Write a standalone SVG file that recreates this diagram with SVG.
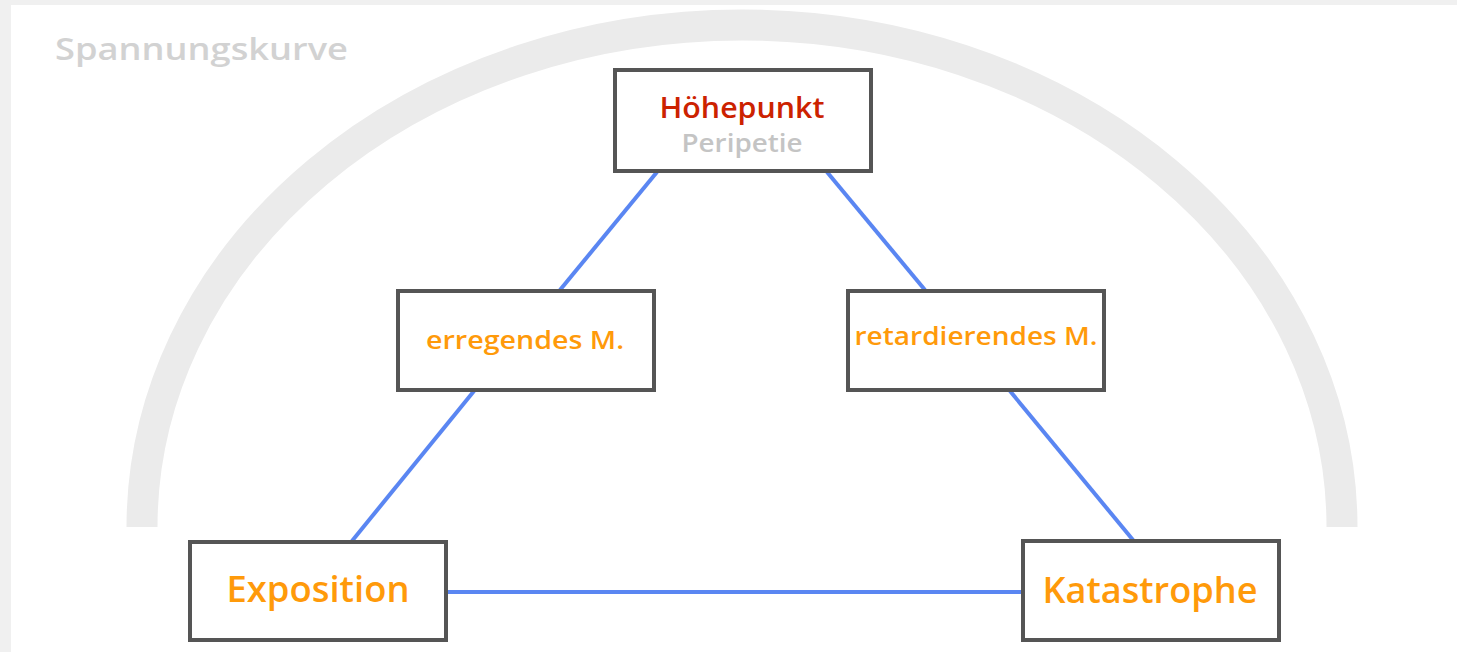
<svg xmlns="http://www.w3.org/2000/svg" width="1457" height="652" viewBox="0 0 1457 652">
<style>
.box{fill:#fff;stroke:#555;stroke-width:4}
.con{stroke:#5a86f2;stroke-width:4;fill:none}
.t{font-family:"Open Sans","Liberation Sans",sans-serif;font-weight:600;text-anchor:middle}
.o{fill:#ff9a0a}
</style>
<rect x="0" y="0" width="1457" height="652" fill="#f0f0f0"/>
<rect x="11" y="5" width="1446" height="647" fill="#fff"/>
<defs><clipPath id="c"><rect x="0" y="0" width="1457" height="527"/></clipPath></defs>
<ellipse cx="742" cy="527" rx="600" ry="502" fill="none" stroke="#ebebeb" stroke-width="31" clip-path="url(#c)"/>
<text x="55" y="60" class="t" style="text-anchor:start;fill:#d2d2d2;font-size:30px" textLength="293" lengthAdjust="spacingAndGlyphs">Spannungskurve</text>
<g id="connectors">
<line class="con" x1="657" y1="172" x2="560" y2="290"/>
<line class="con" x1="474" y1="391" x2="352" y2="541"/>
<line class="con" x1="827" y1="172" x2="925" y2="290"/>
<line class="con" x1="1010" y1="391" x2="1133" y2="540"/>
<line class="con" x1="446" y1="592" x2="1022" y2="592"/>
</g>
<g id="hoehepunkt">
<rect class="box" x="615" y="70" width="256" height="101"/>
<text x="742" y="118" class="t" style="fill:#cc2200;font-size:28px" textLength="165" lengthAdjust="spacingAndGlyphs">Höhepunkt</text>
<text x="742" y="152" class="t" style="fill:#c4c4c4;font-size:25px" textLength="121" lengthAdjust="spacingAndGlyphs">Peripetie</text>
</g>
<g id="erregendes">
<rect class="box" x="398" y="291" width="256" height="99"/>
<text x="525" y="349" class="t o" style="font-size:26px" textLength="198" lengthAdjust="spacingAndGlyphs">erregendes M.</text>
</g>
<g id="retardierendes">
<rect class="box" x="848" y="291" width="256" height="99"/>
<text x="976" y="345" class="t o" style="font-size:26px" textLength="243" lengthAdjust="spacingAndGlyphs">retardierendes M.</text>
</g>
<g id="exposition">
<rect class="box" x="190" y="542" width="256" height="98"/>
<text x="318" y="602" class="t o" style="font-size:36px" textLength="183" lengthAdjust="spacingAndGlyphs">Exposition</text>
</g>
<g id="katastrophe">
<rect class="box" x="1023" y="541" width="256" height="99"/>
<text x="1150" y="603" class="t o" style="font-size:36px" textLength="215" lengthAdjust="spacingAndGlyphs">Katastrophe</text>
</g>
</svg>
